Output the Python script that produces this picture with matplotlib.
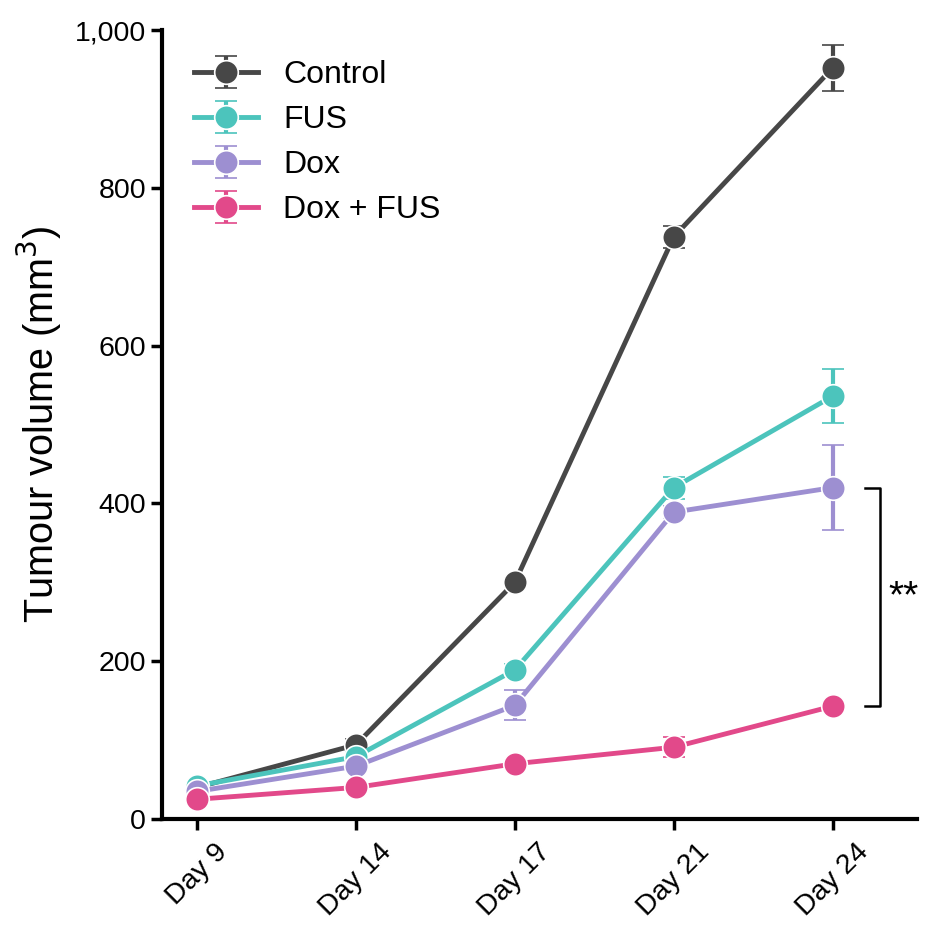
import numpy as np
import matplotlib.pyplot as plt

plt.rcParams['font.family'] = ['Liberation Sans', 'DejaVu Sans']

days = ['Day 9', 'Day 14', 'Day 17', 'Day 21', 'Day 24']
groups = ['Control', 'FUS', 'Dox', 'Dox + FUS']
colors = ['#474747', '#4cc4bc', '#9d8fd1', '#e2498a']

control = [40, 94, 300, 738, 952]
control_err = [6, 8, 6, 14, 29]
fus = [42, 79, 189, 420, 536]
fus_err = [5, 6, 8, 14, 34]
dox = [35, 67, 144, 389, 420]
dox_err = [4, 6, 19, 8, 54]
dox_fus = [25, 40, 70, 91, 143]
dox_fus_err = [3, 4, 5, 13, 5]

means = [control, fus, dox, dox_fus]
errs = [control_err, fus_err, dox_err, dox_fus_err]

fig = plt.figure(figsize=(9.34, 9.42), dpi=100)
ax = fig.add_axes([162/934, 1 - 819/942, (917-162)/934, (819-30)/942])

x = np.arange(len(days))
for name, m, e, c in zip(groups, means, errs, colors):
    ax.errorbar(x, m, yerr=e, color=c, lw=3.5, marker='o', ms=17,
                mec='white', mew=1.2, capsize=8, capthick=2.5, elinewidth=3,
                label=name)

# significance bracket
bx = 4.3
ax.plot([bx - 0.1, bx, bx, bx - 0.1], [dox[-1], dox[-1], dox_fus[-1], dox_fus[-1]],
        color='black', lw=1.8, clip_on=False)
ax.text(bx + 0.05, (dox[-1] + dox_fus[-1]) / 2, '**', fontsize=28,
        ha='left', va='center')

ax.set_xlim(-0.22, 4.53)
ax.set_ylim(0, 1000)
ax.set_xticks(x)
ax.set_xticklabels(days, rotation=45, ha='center')
ax.set_yticks([0, 200, 400, 600, 800, 1000])
ax.set_yticklabels(['0', '200', '400', '600', '800', '1,000'])
ax.tick_params(labelsize=20.5, width=2.5, length=8, direction='out')
ax.tick_params(axis='x', pad=6)
ax.set_ylabel('Tumour volume (mm$^3$)', fontsize=28.5, labelpad=8)

for s in ['top', 'right']:
    ax.spines[s].set_visible(False)
for s in ['left', 'bottom']:
    ax.spines[s].set_linewidth(3)

ax.legend(loc='upper left', bbox_to_anchor=(0.025, 0.978), frameon=False,
          fontsize=23, handlelength=2.0, handletextpad=0.8, labelspacing=0.47,
          borderaxespad=0.0)

fig.savefig('out.png', dpi=100)
